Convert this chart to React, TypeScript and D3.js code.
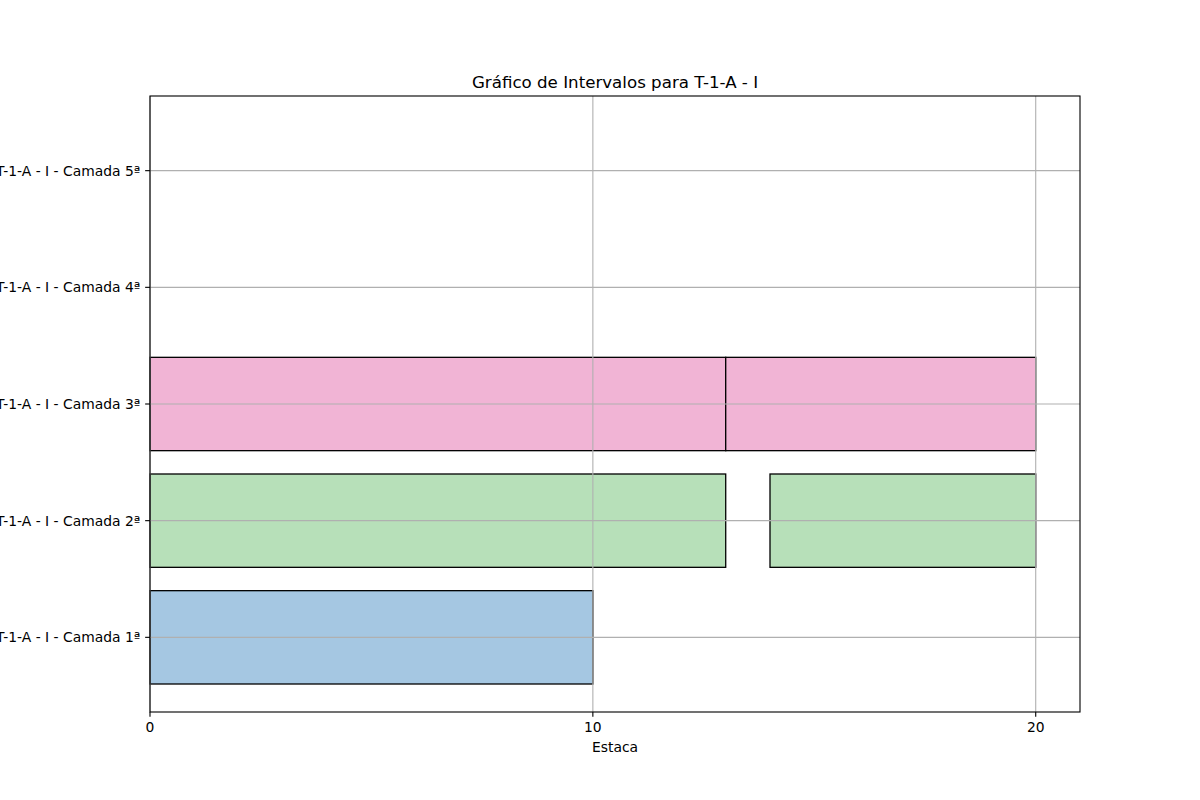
import React, { useEffect, useRef } from 'react';
import * as d3 from 'd3';

// layers (bottom to top) and their y positions
const layers = [
  'T-1-A - I - Camada 1ª',
  'T-1-A - I - Camada 2ª',
  'T-1-A - I - Camada 3ª',
  'T-1-A - I - Camada 4ª',
  'T-1-A - I - Camada 5ª',
];
const layerColors = ['#a5c7e2', '#b7e0b9', '#f1b4d5', '#f7c2a4', '#cdb9e0'];

// intervals: which layer, start and end (Estaca)
const intervalLayer = [0, 1, 1, 2, 2, 3, 4];
const intervalStart = [0, 0, 14, 0, 13, 0, 0];
const intervalEnd = [10, 13, 20, 13, 20, 0, 0];

const xTicks = [0, 10, 20];

const W = 1200;
const H = 800;
const margin = { left: 150, right: 120, top: 96, bottom: 88 };
const pt = 100 / 72;

const App: React.FC = () => {
  const svgRef = useRef<SVGSVGElement>(null);

  useEffect(() => {
    document.body.style.margin = '0';
    if (!svgRef.current) return;
    const svg = d3.select(svgRef.current);
    svg.selectAll('*').remove();

    const font = 'DejaVu Sans, sans-serif';
    const fs = 10 * pt;
    const tick = 3.5 * pt;
    const lw = 0.8 * pt;
    const x = d3.scaleLinear().domain([0, 21]).range([margin.left, W - margin.right]);
    const y = d3.scaleLinear().domain([0.36, 5.64]).range([H - margin.bottom, margin.top]);
    const barH = 0.8;

    svg.append('rect').attr('width', W).attr('height', H).attr('fill', 'white');

    // bars
    const g = svg.append('g');
    intervalLayer.forEach((li, i) => {
      const pos = li + 1;
      const x0 = x(intervalStart[i]);
      const x1 = x(intervalEnd[i]);
      g.append('rect')
        .attr('x', x0)
        .attr('y', y(pos + barH / 2))
        .attr('width', x1 - x0)
        .attr('height', y(pos - barH / 2) - y(pos + barH / 2))
        .attr('fill', layerColors[li])
        .attr('stroke', 'black')
        .attr('stroke-width', 1.3);
    });

    // grid on top
    const grid = svg.append('g').attr('stroke', '#b0b0b0').attr('stroke-width', lw);
    xTicks.forEach(t => {
      grid.append('line')
        .attr('x1', x(t)).attr('x2', x(t))
        .attr('y1', margin.top).attr('y2', H - margin.bottom);
    });
    layers.forEach((_, i) => {
      grid.append('line')
        .attr('x1', margin.left).attr('x2', W - margin.right)
        .attr('y1', y(i + 1)).attr('y2', y(i + 1));
    });

    // spines
    svg.append('rect')
      .attr('x', margin.left)
      .attr('y', margin.top)
      .attr('width', W - margin.left - margin.right)
      .attr('height', H - margin.top - margin.bottom)
      .attr('fill', 'none')
      .attr('stroke', 'black')
      .attr('stroke-width', lw);

    // x ticks
    const xa = svg.append('g');
    xTicks.forEach(t => {
      xa.append('line')
        .attr('x1', x(t)).attr('x2', x(t))
        .attr('y1', H - margin.bottom).attr('y2', H - margin.bottom + tick)
        .attr('stroke', 'black').attr('stroke-width', lw);
      xa.append('text')
        .attr('x', x(t))
        .attr('y', H - margin.bottom + 2 * tick)
        .attr('dy', '0.76em')
        .attr('text-anchor', 'middle')
        .attr('font-family', font)
        .attr('font-size', fs)
        .text(String(t));
    });

    // y ticks
    const ya = svg.append('g');
    layers.forEach((name, i) => {
      ya.append('line')
        .attr('x1', margin.left - tick).attr('x2', margin.left)
        .attr('y1', y(i + 1)).attr('y2', y(i + 1))
        .attr('stroke', 'black').attr('stroke-width', lw);
      ya.append('text')
        .attr('x', margin.left - 2 * tick)
        .attr('y', y(i + 1))
        .attr('dy', '0.35em')
        .attr('text-anchor', 'end')
        .attr('font-family', font)
        .attr('font-size', fs)
        .text(name);
    });

    // labels
    svg.append('text')
      .attr('x', (margin.left + W - margin.right) / 2)
      .attr('y', 752)
      .attr('text-anchor', 'middle')
      .attr('font-family', font)
      .attr('font-size', fs)
      .text('Estaca');

    svg.append('text')
      .attr('x', (margin.left + W - margin.right) / 2)
      .attr('y', margin.top - 6 * pt)
      .attr('text-anchor', 'middle')
      .attr('font-family', font)
      .attr('font-size', 12 * pt)
      .text('Gráfico de Intervalos para T-1-A - I');
  }, []);

  return <svg ref={svgRef} width={W} height={H} style={{ display: 'block' }} />;
};

export default App;
